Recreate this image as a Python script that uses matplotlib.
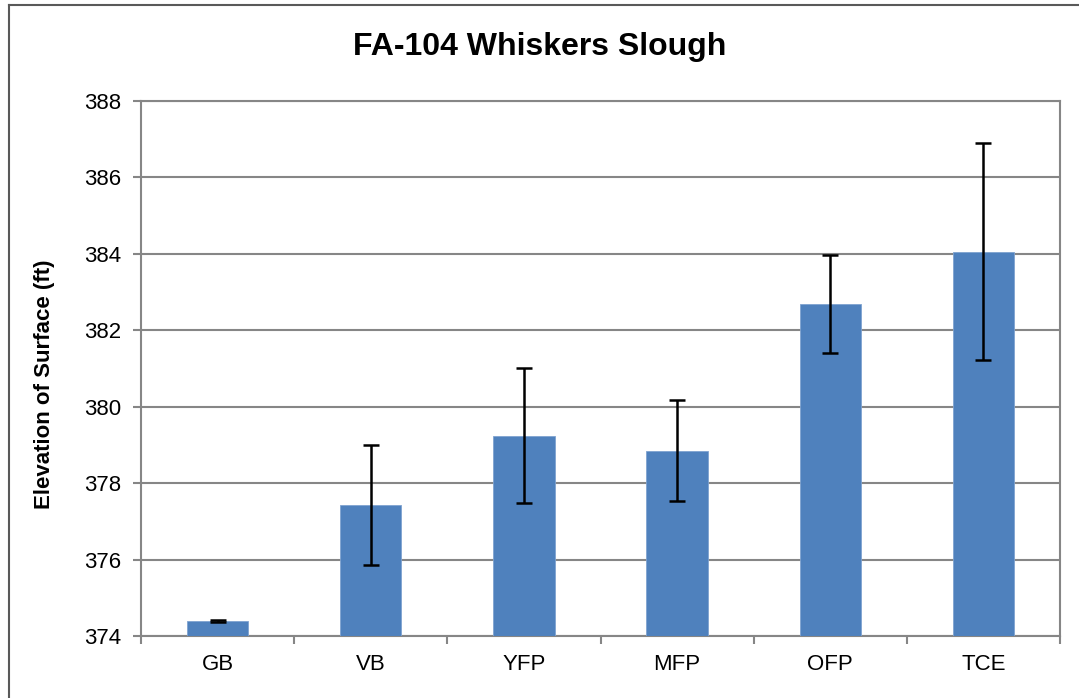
import matplotlib
matplotlib.use("Agg")
import matplotlib.pyplot as plt
from matplotlib import font_manager
from matplotlib.lines import Line2D

categories = ["GB", "VB", "YFP", "MFP", "OFP", "TCE"]
means = [374.39, 377.42, 379.24, 378.85, 382.68, 384.06]
errors = [0.02, 1.57, 1.77, 1.33, 1.28, 2.83]
yticks = [374, 376, 378, 380, 382, 384, 386, 388]

names = {f.name for f in font_manager.fontManager.ttflist}
fam = "Liberation Sans Narrow" if "Liberation Sans Narrow" in names else "Liberation Sans"
plt.rcParams["font.family"] = [fam, "DejaVu Sans"]

fig = plt.figure(figsize=(10.79, 6.98), dpi=100)
ax = fig.add_axes([141/1079, 1-636/698, (1060-141)/1079, (636-101)/698])

x = list(range(len(categories)))
ax.bar(x, [m - 374 for m in means], bottom=374, width=0.4, color="#4F81BD",
       edgecolor="#7FA3D0", linewidth=0.6, zorder=3)
ax.errorbar(x, means, yerr=errors, fmt="none", ecolor="black", elinewidth=1.8,
            capsize=6, capthick=1.8, zorder=4)

ax.set_xlim(-0.5, len(categories) - 0.5)
ax.set_ylim(374, 388)
ax.set_yticks(yticks)
ax.set_yticklabels([str(t) for t in yticks], fontsize=16)
ax.set_xticks(x)
ax.set_xticklabels(categories, fontsize=16)
ax.set_xticks([i - 0.5 for i in range(len(categories) + 1)], minor=True)
ax.tick_params(axis="x", which="major", length=0, pad=13)
ax.tick_params(axis="x", which="minor", length=6, color="#868686", width=1.5)
ax.tick_params(axis="y", length=6, color="#868686", width=1.5, pad=8)
ax.yaxis.grid(True, color="#868686", linewidth=1.5, zorder=0)
ax.set_axisbelow(True)
for s in ax.spines.values():
    s.set_color("#868686")
    s.set_linewidth(1.5)

ax.set_ylabel("Elevation of Surface (ft)", fontsize=16, fontweight="bold")
ax.yaxis.set_label_coords(-0.094, 0.471)
fig.text(0.5, 1 - 47/698, "FA-104 Whiskers Slough", ha="center", va="center",
         fontsize=23, fontweight="bold")

fig.add_artist(Line2D([9/1079, 9/1079], [0, 1 - 5/698], transform=fig.transFigure,
                      color="#595959", linewidth=1.5))
fig.add_artist(Line2D([9/1079, 1], [1 - 5/698, 1 - 5/698], transform=fig.transFigure,
                      color="#595959", linewidth=1.5))

fig.savefig("out.png", dpi=100)
